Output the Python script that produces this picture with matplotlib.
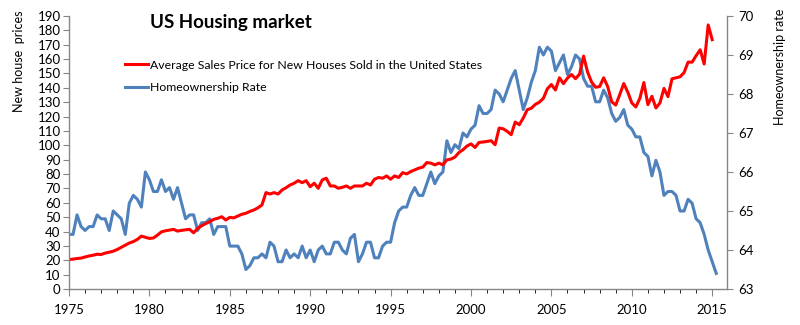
import matplotlib
matplotlib.use("Agg")
import matplotlib.pyplot as plt
import numpy as np
from matplotlib.ticker import MultipleLocator

plt.rcParams['font.family'] = ['Lato', 'DejaVu Sans']

# Quarterly data, first quarter 1975
# Average sales price for new houses (left axis)
price = [
    20.5, 20.8, 21.2, 21.5,    # 1975
    22.3, 23.0, 23.5, 24.2,    # 1976
    24.0, 25.0, 25.6, 26.3,    # 1977
    27.5, 29.0, 30.5, 32.0,    # 1978
    33.0, 34.5, 36.8, 36.0,    # 1979
    35.2, 35.5, 37.5, 39.8,    # 1980
    40.5, 41.0, 41.5, 40.3,    # 1981
    40.8, 41.2, 41.5, 39.1,    # 1982
    42.2, 44.0, 45.5, 46.8,    # 1983
    48.5, 49.2, 50.3, 48.0,    # 1984
    49.9, 49.5, 50.8, 52.0,    # 1985
    52.7, 54.0, 55.0, 56.5,    # 1986
    58.5, 67.1, 66.1, 67.1,    # 1987
    66.1, 68.9, 70.5, 72.4,    # 1988
    73.6, 75.4, 74.0, 75.4,    # 1989
    71.2, 73.6, 70.1, 75.9,    # 1990
    77.1, 71.7, 71.7, 70.1,    # 1991
    70.8, 71.7, 70.1, 71.7,    # 1992
    71.7, 71.7, 73.6, 72.4,    # 1993
    76.4, 77.6, 77.1, 78.7,    # 1994
    76.4, 78.7, 77.6, 81.0,    # 1995
    80.1, 81.7, 82.9, 84.1,    # 1996
    84.8, 88.0, 87.6, 86.4,    # 1997
    87.6, 86.4, 89.9, 90.4,    # 1998
    91.8, 95.0, 96.9, 99.5,    # 1999
    101.0, 98.5, 102.0, 102.3,  # 2000
    102.7, 103.2, 100.4, 112.0,  # 2001
    111.5, 109.7, 107.4, 116.2,  # 2002
    114.3, 119.0, 124.8, 125.8,  # 2003
    128.5, 130.0, 132.7, 139.4,  # 2004
    142.3, 138.5, 147.0, 142.9,  # 2005
    146.8, 149.3, 146.4, 149.5,  # 2006
    162.1, 151.0, 144.0, 140.4,  # 2007
    140.9, 147.0, 140.9, 130.3,  # 2008
    128.0, 135.3, 143.0, 137.0,  # 2009
    129.5, 126.7, 132.7, 143.7,  # 2010
    128.3, 134.1, 126.0, 129.5,  # 2011
    139.6, 133.9, 146.3, 147.0,  # 2012
    147.7, 150.6, 157.9, 157.9,  # 2013
    162.4, 166.5, 156.6, 183.8,  # 2014
    173.5,                       # 2015
]

# Homeownership rate in percent (right axis)
ownership = [
    64.4, 64.4, 64.9, 64.6,  # 1975
    64.5, 64.6, 64.6, 64.9,  # 1976
    64.8, 64.8, 64.5, 65.0,  # 1977
    64.9, 64.8, 64.4, 65.2,  # 1978
    65.4, 65.3, 65.1, 66.0,  # 1979
    65.8, 65.5, 65.5, 65.8,  # 1980
    65.5, 65.6, 65.3, 65.6,  # 1981
    65.2, 64.8, 64.9, 64.9,  # 1982
    64.5, 64.7, 64.7, 64.8,  # 1983
    64.4, 64.6, 64.6, 64.6,  # 1984
    64.1, 64.1, 64.1, 63.9,  # 1985
    63.5, 63.6, 63.8, 63.8,  # 1986
    63.9, 63.8, 64.2, 64.1,  # 1987
    63.7, 63.7, 64.0, 63.8,  # 1988
    63.9, 63.8, 64.1, 63.8,  # 1989
    64.0, 63.7, 64.0, 64.1,  # 1990
    63.9, 63.9, 64.2, 64.2,  # 1991
    64.0, 63.9, 64.3, 64.4,  # 1992
    63.7, 63.9, 64.2, 64.2,  # 1993
    63.8, 63.8, 64.1, 64.2,  # 1994
    64.2, 64.7, 65.0, 65.1,  # 1995
    65.1, 65.4, 65.6, 65.4,  # 1996
    65.4, 65.7, 66.0, 65.7,  # 1997
    65.9, 66.0, 66.8, 66.5,  # 1998
    66.7, 66.6, 67.0, 66.9,  # 1999
    67.1, 67.2, 67.7, 67.5,  # 2000
    67.5, 67.6, 68.1, 68.0,  # 2001
    67.8, 68.1, 68.4, 68.6,  # 2002
    68.1, 67.6, 67.9, 68.3,  # 2003
    68.6, 69.2, 69.0, 69.2,  # 2004
    69.1, 68.6, 68.8, 69.0,  # 2005
    68.5, 68.7, 69.0, 68.9,  # 2006
    68.4, 68.2, 68.2, 67.8,  # 2007
    67.8, 68.1, 67.9, 67.5,  # 2008
    67.3, 67.4, 67.6, 67.2,  # 2009
    67.1, 66.9, 66.9, 66.5,  # 2010
    66.4, 65.9, 66.3, 66.0,  # 2011
    65.4, 65.5, 65.5, 65.4,  # 2012
    65.0, 65.0, 65.3, 65.2,  # 2013
    64.8, 64.7, 64.4, 64.0,  # 2014
    63.7, 63.4,              # 2015
]

price_dates = 1975 + np.arange(len(price)) / 4
own_dates = 1975 + np.arange(len(ownership)) / 4

red = '#FF0000'
blue = '#4F81BD'
grey = '#868686'

fig = plt.figure(figsize=(8, 3.25), dpi=100)
ax = fig.add_axes([69 / 800, 1 - 289 / 325, 658 / 800, 273 / 325])
ax2 = ax.twinx()

l2, = ax2.plot(own_dates, ownership, color=blue, lw=2.2, label='Homeownership Rate')
l1, = ax.plot(price_dates, price, color=red, lw=2.2,
              label='Average Sales Price for New Houses Sold in the United States')

# price line drawn above the ownership line
ax.set_zorder(ax2.get_zorder() + 1)
ax.patch.set_visible(False)

ax.set_xlim(1975, 2015.92)
ax.set_ylim(0, 190)
ax2.set_ylim(63, 70)
ax.yaxis.set_major_locator(MultipleLocator(10))
ax2.yaxis.set_major_locator(MultipleLocator(1))
ax.xaxis.set_major_locator(MultipleLocator(5))
ax.xaxis.set_minor_locator(MultipleLocator(1))

for a in (ax, ax2):
    a.spines['top'].set_visible(False)
    for s in ('left', 'right', 'bottom'):
        a.spines[s].set_color(grey)
        a.spines[s].set_linewidth(1.0)
    a.tick_params(colors=grey, labelcolor='black', labelsize=9.5, direction='out')
ax.spines['right'].set_visible(False)
ax2.spines['left'].set_visible(False)
ax2.spines['bottom'].set_visible(False)
ax.tick_params(axis='y', length=4, pad=2)
ax2.tick_params(axis='y', length=4, pad=4)
ax.tick_params(axis='x', which='major', length=5, pad=6)
ax.tick_params(axis='x', which='minor', length=3)

ax.text(0.246, 0.978, 'US Housing market', transform=ax.transAxes,
        ha='center', va='center', fontsize=13.5, fontweight='bold')

fig.text(19 / 800, 1 - 61 / 325, 'New house  prices', rotation=90,
         ha='center', va='center', fontsize=9)
fig.text(780 / 800, 1 - 67 / 325, 'Homeownership rate', rotation=90,
         ha='center', va='center', fontsize=9)

ax.legend(handles=[l1, l2], loc='upper left', bbox_to_anchor=(0.077, 0.858),
          frameon=False, fontsize=8.8, handlelength=1.9, handletextpad=0.2,
          labelspacing=0.95, borderaxespad=0)

fig.savefig('out.png', dpi=100)
